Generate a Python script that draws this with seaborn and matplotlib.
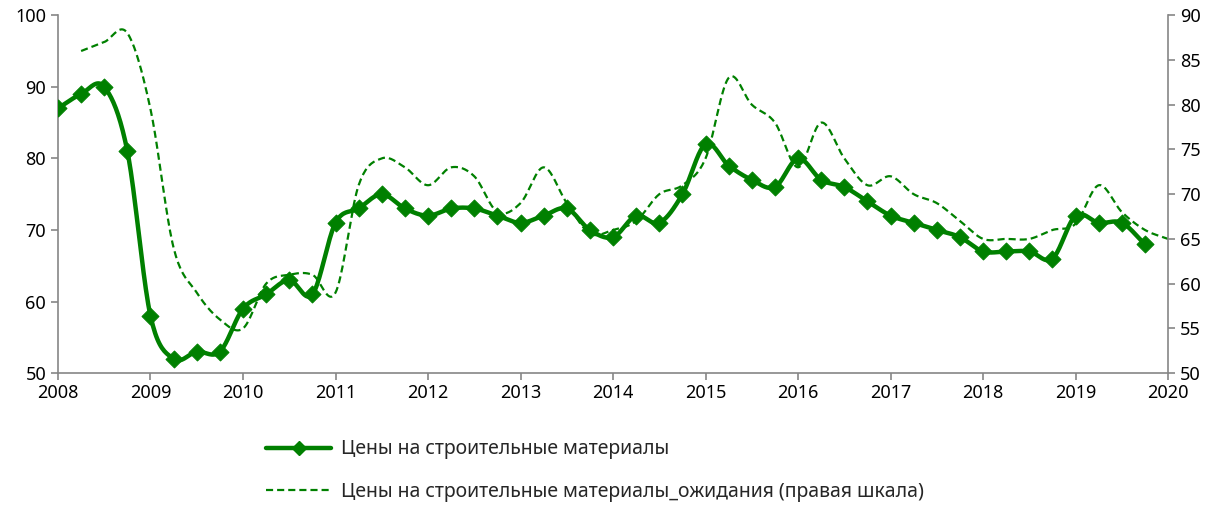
import numpy as np
import pandas as pd
import matplotlib
matplotlib.use("Agg")
import matplotlib.pyplot as plt
import seaborn as sns

# ── Data ─────────────────────────────────────────────────────────────────────

# quarterly observations, solid series starts 2008Q1
prices_start = 2008.0
prices = [87, 89, 90, 81, 58, 52, 53, 53,
          59, 61, 63, 61, 71, 73, 75, 73,
          72, 73, 73, 72, 71, 72, 73, 70,
          69, 72, 71, 75, 82, 79, 77, 76,
          80, 77, 76, 74, 72, 71, 70, 69,
          67, 67, 67, 66, 72, 71, 71, 68]

# expectations (right axis), starts 2008Q2, ends 2020Q1
expect_start = 2008.25
expectations = [86, 87, 88, 79.5, 64, 59, 56,
                55, 60, 61, 61, 59, 71, 74, 73,
                71, 73, 72, 68, 69, 73, 69, 65.6,
                66, 67, 70, 71, 74, 83, 80, 78,
                73, 78, 74, 71, 72, 70, 69, 67,
                65, 65, 65, 66, 66.7, 71, 68, 66,
                65]

label_prices = "Цены на строительные материалы"
label_expect = "Цены на строительные материалы_ожидания (правая шкала)"

GREEN = "#008000"
GRAY = "#868686"


def smooth(x, y, n=20):
    """Catmull-Rom curve through the points (like a smoothed office chart line)."""
    x = np.asarray(x, float)
    y = np.asarray(y, float)
    px = np.concatenate([[2 * x[0] - x[1]], x, [2 * x[-1] - x[-2]]])
    py = np.concatenate([[2 * y[0] - y[1]], y, [2 * y[-1] - y[-2]]])
    xs, ys = [], []
    t = np.linspace(0, 1, n, endpoint=False)
    for i in range(1, len(px) - 2):
        for arr, out in ((px, xs), (py, ys)):
            p0, p1, p2, p3 = arr[i - 1], arr[i], arr[i + 1], arr[i + 2]
            out.extend(0.5 * (2 * p1 + (-p0 + p2) * t
                              + (2 * p0 - 5 * p1 + 4 * p2 - p3) * t ** 2
                              + (-p0 + 3 * p1 - 3 * p2 + p3) * t ** 3))
    xs.append(x[-1])
    ys.append(y[-1])
    return np.array(xs), np.array(ys)


# ── Plot ─────────────────────────────────────────────────────────────────────

sns.set_style("white")
plt.rcParams["font.family"] = ["Noto Sans", "DejaVu Sans"]

df_p = pd.DataFrame({"t": prices_start + 0.25 * np.arange(len(prices)), "v": prices})
df_e = pd.DataFrame({"t": expect_start + 0.25 * np.arange(len(expectations)), "v": expectations})

sx, sy = smooth(df_p["t"], df_p["v"])
ex, ey = smooth(df_e["t"], df_e["v"])

fig = plt.figure(figsize=(12.13, 5.07), dpi=100)
ax = fig.add_axes([0.0478, 0.264, 0.9152, 0.706])
ax2 = ax.twinx()

sns.lineplot(x=ex, y=ey, ax=ax2, color=GREEN, lw=1.6, linestyle=(0, (3.2, 1.8)),
             sort=False, estimator=None)
sns.lineplot(x=sx, y=sy, ax=ax, color=GREEN, lw=3.2, sort=False, estimator=None)
sns.scatterplot(data=df_p, x="t", y="v", ax=ax, marker="D", s=75, color=GREEN,
                edgecolor=GREEN, zorder=5)

ax.set_zorder(ax2.get_zorder() + 1)
ax.patch.set_visible(False)

ax.set_xlim(2008, 2020)
ax.set_ylim(50, 100)
ax2.set_ylim(50, 90)
ax.set_xticks(range(2008, 2021))
ax.set_yticks(range(50, 101, 10))
ax2.set_yticks(range(50, 91, 5))
ax.set_xlabel("")
ax.set_ylabel("")
ax2.set_ylabel("")

for a in (ax, ax2):
    for side, sp in a.spines.items():
        sp.set_visible(side in ("left", "bottom", "right"))
        sp.set_color(GRAY)
        sp.set_linewidth(1.2)
    a.tick_params(axis="both", labelsize=13, colors=GRAY, labelcolor="black",
                  length=5, width=1.2, direction="out")
ax.tick_params(axis="y", left=True, right=False)
ax2.tick_params(axis="y", right=True, left=False)
ax.tick_params(axis="x", bottom=True, pad=3)
ax.spines["right"].set_visible(False)
ax2.spines["left"].set_visible(False)
ax2.spines["bottom"].set_visible(False)

# legend below the plot
h1 = plt.Line2D([], [], color=GREEN, lw=3.2, marker="D", markersize=7)
h2 = plt.Line2D([], [], color=GREEN, lw=1.6, linestyle=(0, (3.2, 1.8)))
fig.legend([h1, h2], [label_prices, label_expect], loc="upper left",
           bbox_to_anchor=(0.205, 0.168), frameon=False, fontsize=14,
           handlelength=3.35, labelspacing=1.15, handletextpad=0.5)

fig.savefig("out.png", dpi=100)
